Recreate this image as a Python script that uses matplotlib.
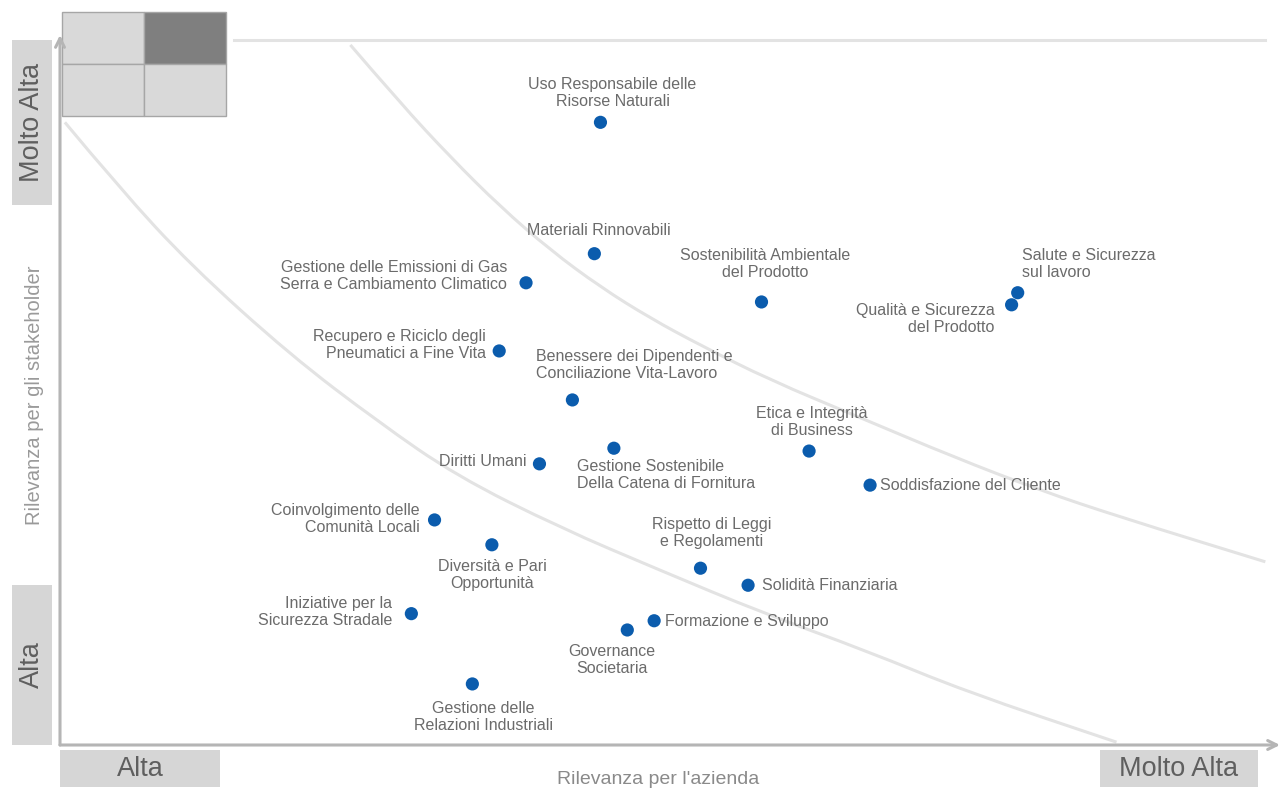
import matplotlib
matplotlib.use("Agg")
import matplotlib.pyplot as plt
from matplotlib.patches import Rectangle
from matplotlib.path import Path
from matplotlib.patches import PathPatch

plt.rcParams['font.family'] = ['Liberation Sans', 'DejaVu Sans']

# topics: relevance for the company (x) and for stakeholders (y), 0-100 scale
topics = [
    "Uso Responsabile delle\nRisorse Naturali",
    "Materiali Rinnovabili",
    "Gestione delle Emissioni di Gas\nSerra e Cambiamento Climatico",
    "Sostenibilità Ambientale\ndel Prodotto",
    "Salute e Sicurezza\nsul lavoro",
    "Qualità e Sicurezza\ndel Prodotto",
    "Recupero e Riciclo degli\nPneumatici a Fine Vita",
    "Benessere dei Dipendenti e\nConciliazione Vita-Lavoro",
    "Gestione Sostenibile\nDella Catena di Fornitura",
    "Diritti Umani",
    "Etica e Integrità\ndi Business",
    "Soddisfazione del Cliente",
    "Coinvolgimento delle\nComunità Locali",
    "Diversità e Pari\nOpportunità",
    "Rispetto di Leggi\ne Regolamenti",
    "Solidità Finanziaria",
    "Iniziative per la\nSicurezza Stradale",
    "Formazione e Sviluppo",
    "Governance\nSocietaria",
    "Gestione delle\nRelazioni Industriali",
]
rel_azienda = [44.3, 43.8, 38.2, 57.5, 78.5, 78.0, 36.0, 42.0, 45.4, 39.3,
               61.4, 66.4, 30.7, 35.4, 52.5, 56.4, 28.8, 48.7, 46.5, 33.8]
rel_stakeholder = [87.7, 69.2, 65.1, 62.4, 63.7, 62.0, 55.5, 48.6, 41.8, 39.6,
                   41.4, 36.6, 31.7, 28.2, 24.9, 22.5, 18.5, 17.5, 16.2, 8.6]

# boundary curves between materiality zones
low_x = [0.4, 4.9, 10.7, 18.9, 26.1, 32.5, 41.0, 49.2, 57.6, 66.2, 74.3, 86.6]
low_y = [87.7, 78.4, 67.6, 54.9, 45.5, 37.9, 30.6, 24.6, 18.6, 13.2, 7.5, 0.4]
mid_x = [23.8, 27.9, 32.0, 36.1, 40.2, 44.3, 48.4, 52.5, 58.2, 65.6, 73.2, 80.3, 86.9, 98.8]
mid_y = [98.6, 90.4, 82.8, 75.8, 69.7, 64.5, 60.1, 56.3, 51.4, 46.1, 40.6, 35.9, 32.1, 25.8]
top_x = [14.3, 98.8]
top_y = [99.3, 99.3]

# label placement: (dx, dy) in pixels from the point, horizontal alignment
label_pos = [
    (12, 29, 'center'), (4, 23, 'center'), (-19, 7, 'right'), (4, 38, 'center'),
    (4, 29, 'left'), (-17, -14, 'right'), (-13, 6, 'right'), (-36, 35, 'left'),
    (-37, -27, 'left'), (-13, 2, 'right'), (3, 29, 'center'), (10, 0, 'left'),
    (-15, 1, 'right'), (0, -30, 'center'), (11, 35, 'center'), (14, 0, 'left'),
    (-19, 2, 'right'), (11, -1, 'left'), (-15, -30, 'center'), (11, -33, 'center'),
]

W, H = 1287, 791
fig = plt.figure(figsize=(W / 100, H / 100), dpi=100)

# background overlay in pixel space for boxes and side labels
bg = fig.add_axes([0, 0, 1, 1])
bg.set_xlim(0, W)
bg.set_ylim(H, 0)
bg.axis('off')

light = '#d9d9d9'
for (x0, y0, w, h, c) in [(62, 12, 82, 52, light), (144, 12, 82, 52, '#7f7f7f'),
                          (62, 64, 82, 52, light), (144, 64, 82, 52, light)]:
    bg.add_patch(Rectangle((x0, y0), w, h, facecolor=c, edgecolor='#a6a6a6', lw=1))

box_col = '#d6d6d6'
txt_col = '#5f5f5f'
bg.add_patch(Rectangle((12, 40), 40, 165, facecolor=box_col, edgecolor='none'))
bg.add_patch(Rectangle((12, 585), 40, 160, facecolor=box_col, edgecolor='none'))
bg.add_patch(Rectangle((60, 750), 160, 37, facecolor=box_col, edgecolor='none'))
bg.add_patch(Rectangle((1100, 750), 158, 37, facecolor=box_col, edgecolor='none'))
bg.text(32, 122, "Molto Alta", rotation=90, ha='center', va='center', fontsize=19.5, color=txt_col)
bg.text(32, 665, "Alta", rotation=90, ha='center', va='center', fontsize=19.5, color=txt_col)
bg.text(140, 769, "Alta", ha='center', va='center', fontsize=19.5, color=txt_col)
bg.text(1179, 769, "Molto Alta", ha='center', va='center', fontsize=19.5, color=txt_col)
bg.text(35, 395, "Rilevanza per gli stakeholder", rotation=90, ha='center', va='center',
        fontsize=14.5, color='#9a9a9a')
bg.text(658, 780, "Rilevanza per l'azienda", ha='center', va='center',
        fontsize=14, color='#8a8a8a')

# main plotting area
ax = fig.add_axes([60 / W, 1 - 745 / H, 1220 / W, 710 / H])
ax.set_xlim(0, 100)
ax.set_ylim(0, 100)
ax.axis('off')
ax.patch.set_alpha(0)


def smooth_curve(xs, ys):
    pts = list(zip(xs, ys))
    verts = [pts[0]]
    codes = [Path.MOVETO]
    for i in range(1, len(pts) - 1):
        mx = (pts[i][0] + pts[i + 1][0]) / 2
        my = (pts[i][1] + pts[i + 1][1]) / 2
        verts += [pts[i], (mx, my)]
        codes += [Path.CURVE3, Path.CURVE3]
    verts.append(pts[-1])
    codes.append(Path.LINETO)
    return PathPatch(Path(verts, codes), facecolor='none', edgecolor='#e3e3e3',
                     lw=2.2, clip_on=False)


ax.add_patch(smooth_curve(low_x, low_y))
ax.add_patch(smooth_curve(mid_x, mid_y))
ax.plot(top_x, top_y, color='#e3e3e3', lw=2.2, clip_on=False)

# axes with open arrow heads
axis_col = '#b5b5b5'
ax.annotate('', xy=(0, 1.0), xytext=(0, 0), xycoords='axes fraction',
            arrowprops=dict(arrowstyle='->', color=axis_col, lw=2.2,
                            mutation_scale=16, shrinkA=0, shrinkB=0))
ax.annotate('', xy=(1.0, 0), xytext=(0, 0), xycoords='axes fraction',
            arrowprops=dict(arrowstyle='->', color=axis_col, lw=2.2,
                            mutation_scale=16, shrinkA=0, shrinkB=0))

ax.scatter(rel_azienda, rel_stakeholder, s=90, color='#0b5cad', zorder=5,
           edgecolors='none', clip_on=False)

for name, x, y, (dx, dy, ha) in zip(topics, rel_azienda, rel_stakeholder, label_pos):
    ax.annotate(name, (x, y), xytext=(dx, dy), textcoords='offset pixels',
                ha=ha, va='center', multialignment=ha, fontsize=11.5,
                color='#6b6b6b', linespacing=1.15)

fig.savefig('out.png', dpi=100)
